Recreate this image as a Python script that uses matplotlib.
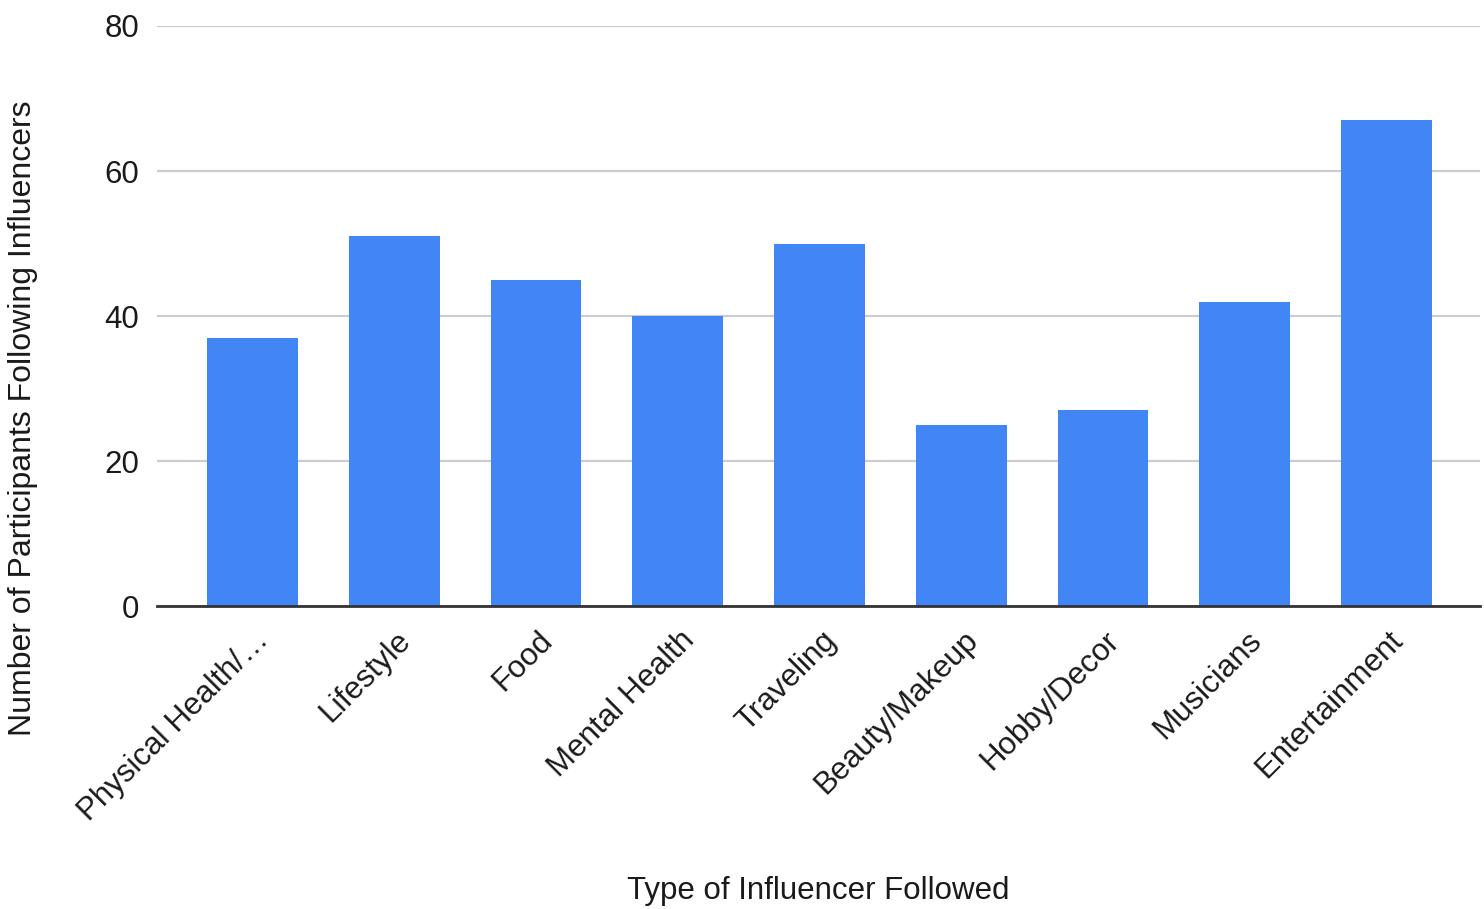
import matplotlib.pyplot as plt
import matplotlib.transforms as mtransforms

plt.rcParams['font.family'] = ['Liberation Sans', 'DejaVu Sans']

categories = ['Physical Health/…', 'Lifestyle', 'Food', 'Mental Health', 'Traveling',
              'Beauty/Makeup', 'Hobby/Decor', 'Musicians', 'Entertainment']
counts = [37, 51, 45, 40, 50, 25, 27, 42, 67]
yticks = [0, 20, 40, 60, 80]

fig = plt.figure(figsize=(14.84, 9.09), dpi=100)
ax = fig.add_axes([0.1058, 0.3333, 0.8915, 0.6381])

x = range(len(categories))
ax.bar(x, counts, width=0.64, color='#4285F4', zorder=3)

ax.set_xlim(-0.674, 8.66)
ax.set_ylim(0, 80)
ax.set_yticks(yticks)
ax.yaxis.grid(True, color='#cccccc', linewidth=1.6, zorder=0)
ax.set_axisbelow(True)

for s in ['top', 'right', 'left']:
    ax.spines[s].set_visible(False)
ax.spines['bottom'].set_color('#333333')
ax.spines['bottom'].set_linewidth(2)
ax.spines['bottom'].set_zorder(4)

ax.tick_params(axis='y', length=0, pad=13, labelsize=22.5, labelcolor='#1a1a1a')
ax.tick_params(axis='x', length=0, pad=10, labelsize=22.5, labelcolor='#1a1a1a')
ax.set_xticks(list(x))
ax.set_xticklabels(categories, rotation=45, ha='right', va='center',
                   rotation_mode='anchor')
# nudge the slanted labels right and down
shift = mtransforms.ScaledTranslation(12/100, -16/100, fig.dpi_scale_trans)
for lbl in ax.get_xticklabels():
    lbl.set_transform(lbl.get_transform() + shift)

ax.set_ylabel('Number of Participants Following Influencers', fontsize=23, color='#1a1a1a')
ax.yaxis.set_label_coords(-0.09, 0.324)
ax.set_xlabel('Type of Influencer Followed', fontsize=22.5, color='#1a1a1a')
ax.xaxis.set_label_coords(0.5, -0.465)

fig.savefig('out.png', dpi=100, facecolor='white')
